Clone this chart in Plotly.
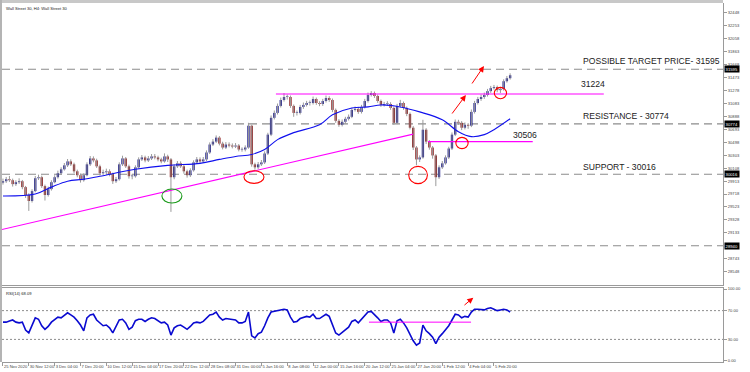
import plotly.graph_objects as go

# ---------------- data ----------------
first_open = 29890
close = [29911,29941,29926,29867,29896,29911,29822,29703,29613,29762,
         29956,29971,29837,29703,29792,29896,29971,30031,30090,30150,
         30209,30165,30060,30001,29926,30001,30165,30254,30224,30135,
         30031,30046,30060,30016,29911,29941,30165,30254,30135,29986,
         29986,30120,30239,30269,30224,30254,30284,30269,30239,30209,
         30284,30239,29971,30135,30180,30135,30060,30001,30075,30194,
         30239,30209,30239,30343,30463,30507,30567,30477,30418,30463,
         30448,30433,30448,30388,30388,30418,30746,30165,30120,30165,
         30194,30328,30612,30865,30939,31044,31133,31178,31178,31044,
         30939,30939,31029,31059,31088,31088,31148,31088,31073,31118,
         31163,31133,30984,30820,30760,30805,30850,30880,30984,30999,
         30954,31029,31118,31208,31237,31193,31118,31059,31073,31073,
         31014,30790,31044,31088,31014,30924,30716,30418,30239,30269,
         30686,30507,30418,30299,29971,30120,30180,30269,30403,30612,
         30805,30790,30716,30760,30746,30954,31088,31148,31178,31208,
         31267,31312,31327,31282,31297,31416,31461,31506]
high = [29950,29975,29990,29950,29925,29955,29930,29840,29730,29790,
        29990,30010,29995,29860,29830,29925,30000,30070,30120,30185,
        30245,30240,30190,30085,30025,30030,30195,30290,30285,30250,
        30160,30085,30100,30090,30040,29975,30195,30295,30275,30160,
        30020,30150,30270,30305,30295,30290,30320,30320,30295,30265,
        30330,30310,30260,30165,30215,30210,30160,30085,30105,30225,
        30275,30270,30275,30375,30495,30545,30600,30590,30505,30500,
        30495,30480,30485,30470,30420,30450,30790,30760,30190,30200,
        30230,30360,30640,30900,30975,31080,31170,31237,31215,31200,
        31065,30975,31060,31095,31120,31125,31185,31170,31115,31150,
        31200,31190,31155,31005,30845,30840,30880,30915,31015,31035,
        31030,31060,31150,31245,31267,31260,31215,31140,31105,31115,
        31100,31035,31075,31135,31110,31035,30945,30740,30440,30300,
        30835,30710,30530,30440,30320,30150,30215,30300,30430,30645,
        30840,30835,30815,30795,30785,30990,31120,31180,31215,31245,
        31300,31345,31360,31350,31330,31445,31495,31535]
low = [29860,29885,29900,29830,29840,29870,29790,29660,29464,29590,
       29745,29930,29810,29620,29680,29770,29880,29950,30010,30070,
       30125,30140,30030,29970,29890,29905,29985,30140,30195,30110,
       30000,30005,30020,29985,29870,29885,29920,30140,30110,29950,
       29940,29965,30100,30215,30195,30200,30230,30240,30210,30180,
       30190,30200,29449,29940,30110,30110,30025,29965,29975,30055,
       30170,30185,30185,30215,30320,30440,30485,30450,30390,30395,
       30420,30405,30410,30360,30355,30360,30400,30130,30085,30095,
       30140,30170,30305,30590,30840,30915,31020,31110,31140,31015,
       30880,30900,30915,31000,31035,31050,31065,31060,31040,31045,
       31095,31105,30950,30790,30730,30735,30780,30825,30860,30960,
       30925,30930,31005,31095,31185,31165,31090,31030,31035,31045,
       30985,30760,30770,31020,30985,30890,30690,30380,30150,30200,
       30250,30470,30385,30250,29837,29945,30095,30160,30245,30380,
       30590,30760,30680,30690,30700,30725,30930,31065,31120,31150,
       31185,31240,31290,31250,31240,31275,31395,31440]
rsi = [54,54,55.5,57,54,53,54,43,39,50,
       60,58,49,44,48,54,58,61,60,64,
       67,64,61,56,50,42,60,64,65,57,
       53,49,50,46,39,48,57,58,53,44,
       47,56,58,58,55,58,60,59,56,53,
       54,50,36,46,49,50,47,44,48,53,
       54,53,55,60,64,65,68,61,57,59,
       58,57,57,53,53,55,68,35,32,38,
       40,49,60,68,69,71,72,72,71,61,
       54,55,59,61,62,61,65,59,59,62,
       65,62,50,39,36,40,44,47,55,57,
       53,58,64,68,69,65,60,55,57,57,
       53,39,56,58,53,46,36,28,22,25,
       50,42,38,33,24,33,38,43,49,57,
       65,64,60,62,61,68,72,72,72,71,
       73,74,72,70,71,72,71,68.09]
ma_idx = [0,10,15,20,25,30,41,51,61,67,72,77,81,85,90,98,102,108,113,117,123,129,136,141,145,149,152,157]
ma_val = [29688,29718,29822,29911,29941,29986,30090,30150,30180,30239,30284,30314,30388,30537,
          30642,30760,30910,31014,31029,31059,31029,30954,30835,30656,30582,30612,30686,30850]

x_tick_idx = [0,8,16,24,32,40,48,56,64,72,80,88,96,104,112,120,128,136,144,152]
x_tick_labels = ["25 Nov 2020","30 Nov 12:00","3 Dec 04:00","7 Dec 20:00","10 Dec 12:00",
                 "15 Dec 04:00","17 Dec 20:00","22 Dec 12:00","28 Dec 08:00","31 Dec 00:00",
                 "5 Jan 16:00","8 Jan 08:00","12 Jan 00:00","15 Jan 16:00","20 Jan 12:00",
                 "25 Jan 04:00","27 Jan 20:00","1 Feb 12:00","4 Feb 04:00","5 Feb 20:00"]
y_tick_vals = [32448,32253,32058,31863,31668,31473,31278,31083,30888,30693,30498,30303,
               30108,29913,29718,29523,29328,29133,28743,28548]
rsi_ticks = [100,70,30,0]
rsi_tick_labels = ["100.00","70.00","30.00","0.00"]

levels = [31595, 30774, 30016, 28940]
level_texts = ["POSSIBLE TARGET PRICE- 31595", "RESISTANCE - 30774", "SUPPORT - 30016"]
level_text_pos = [(179, 31720), (179, 30892), (179, 30125)]
resist_1 = 31224
resist_1_span = [84.5, 186]
support_1 = 30506
support_1_span = [131.6, 164]
trend_x = [-0.6, 127]
trend_y = [29180, 30620]
rsi_line_val = 54
rsi_line_span = [113.3, 144.9]
circles = [  # (cx, cy, rx, ry, color)
    (52.3, 29688, 3.1, 105, "#1a9a1a"),
    (77.7, 29974, 3.1, 95, "#ff0000"),
    (128.5, 30004, 2.9, 130, "#ff0000"),
    (142.1, 30486, 1.9, 85, "#ff0000"),
    (154.0, 31238, 1.9, 85, "#ff0000"),
]
arrows = [  # (tail_x, tail_y, head_x, head_y, panel)
    (138.7, 30907, 143.3, 31208, "main"),
    (144.9, 31359, 148.9, 31645, "main"),
    (142.4, 76, 145.6, 88, "rsi"),
]

# ---------------- figure ----------------
N = len(close)
idx = list(range(N))
open_ = [first_open] + close[:-1]

FONT = "Liberation Sans, Arial, sans-serif"
UP, DN, WICK = "#16168a", "#8a1414", "#9a9a9a"
XR = [-0.3, 222.9]
TICK_FONT = dict(size=4.1, color="#444444", family=FONT)

fig = go.Figure()

# wicks
wx, wy = [], []
for i in idx:
    wx += [i, i, None]
    wy += [low[i], high[i], None]
fig.add_trace(go.Scatter(x=wx, y=wy, mode="lines", line=dict(color=WICK, width=1),
                         hoverinfo="skip", xaxis="x", yaxis="y"))
# bodies
base = [min(o, c) for o, c in zip(open_, close)]
height = [max(abs(c - o), 10) for o, c in zip(open_, close)]
colors = [UP if c >= o else DN for o, c in zip(open_, close)]
fig.add_trace(go.Bar(x=idx, y=height, base=base, width=0.72, marker=dict(color=colors, line=dict(width=0)),
                     xaxis="x", yaxis="y", hoverinfo="skip"))
# moving average
fig.add_trace(go.Scatter(x=ma_idx, y=ma_val, mode="lines", line=dict(color="#1010ee", width=1.1, shape="spline"),
                         xaxis="x", yaxis="y", hoverinfo="skip"))
# magenta lines
fig.add_trace(go.Scatter(x=trend_x, y=trend_y, mode="lines", line=dict(color="#ff00ff", width=1.1),
                         xaxis="x", yaxis="y", hoverinfo="skip"))
fig.add_trace(go.Scatter(x=resist_1_span, y=[resist_1, resist_1], mode="lines",
                         line=dict(color="#ff00ff", width=1.1), xaxis="x", yaxis="y", hoverinfo="skip"))
fig.add_trace(go.Scatter(x=support_1_span, y=[support_1, support_1], mode="lines",
                         line=dict(color="#ff00ff", width=1.1), xaxis="x", yaxis="y", hoverinfo="skip"))
# RSI
fig.add_trace(go.Scatter(x=idx, y=rsi, mode="lines", line=dict(color="#0a0ad0", width=1.6),
                         xaxis="x2", yaxis="y2", hoverinfo="skip"))
fig.add_trace(go.Scatter(x=rsi_line_span, y=[rsi_line_val, rsi_line_val], mode="lines",
                         line=dict(color="#ff00ff", width=1), xaxis="x2", yaxis="y2", hoverinfo="skip"))

shapes = []
for lv in levels:
    shapes.append(dict(type="line", xref="paper", x0=0, x1=1, yref="y", y0=lv, y1=lv,
                       line=dict(color="#8c8c8c", width=1.1, dash="8px,5px"), layer="below"))
for v in (70, 30):
    shapes.append(dict(type="line", xref="paper", x0=0, x1=1, yref="y2", y0=v, y1=v,
                       line=dict(color="#8c8c8c", width=1, dash="2px,2px"), layer="below"))
for cx, cy, rx, ry, col in circles:
    shapes.append(dict(type="circle", xref="x", yref="y", x0=cx - rx, x1=cx + rx, y0=cy - ry, y1=cy + ry,
                       line=dict(color=col, width=1.1)))
# window borders
shapes.append(dict(type="rect", xref="paper", yref="paper", x0=-0.003, x1=1.0, y0=1.0, y1=1.009,
                   fillcolor="#c8c8c8", line=dict(width=0)))
shapes.append(dict(type="rect", xref="paper", yref="paper", x0=-0.003, x1=0.0, y0=0.0, y1=1.009,
                   fillcolor="#b4b4b4", line=dict(width=0)))

annotations = []
for (tx, ty), t in zip(level_text_pos, level_texts):
    annotations.append(dict(x=tx, y=ty, xref="x", yref="y", text=t, showarrow=False, xanchor="left",
                            yanchor="middle", font=dict(size=8.6, color="#222222", family=FONT)))
annotations.append(dict(x=178.3, y=31374, xref="x", yref="y", text=str(resist_1), showarrow=False,
                        xanchor="left", yanchor="middle", font=dict(size=8.6, color="#222222", family=FONT)))
annotations.append(dict(x=157.3, y=30606, xref="x", yref="y", text=str(support_1), showarrow=False,
                        xanchor="left", yanchor="middle", font=dict(size=8.6, color="#222222", family=FONT)))
for tx, ty, hx, hy, panel in arrows:
    xr, yr = ("x", "y") if panel == "main" else ("x2", "y2")
    annotations.append(dict(x=hx, y=hy, ax=tx, ay=ty, xref=xr, yref=yr, axref=xr, ayref=yr, text="",
                            showarrow=True, arrowhead=2, arrowsize=1.2, arrowwidth=1, arrowcolor="#ff0000"))
for lv in levels:
    annotations.append(dict(x=1, y=lv, xref="paper", yref="y", text=str(lv), showarrow=False,
                            xanchor="left", yanchor="middle", xshift=1, bgcolor="#000000", borderpad=0.6,
                            font=dict(size=4.2, color="#ffffff", family=FONT)))
annotations.append(dict(x=0.003, y=1, xref="paper", yref="paper", text="Wall Street 30, H4: Wall Street 30",
                        showarrow=False, xanchor="left", yanchor="top", yshift=-1,
                        font=dict(size=4.1, color="#222222", family=FONT)))
annotations.append(dict(x=0.003, y=1, xref="paper", yref="y2 domain", text="RSI(14) 68.09",
                        showarrow=False, xanchor="left", yanchor="top", yshift=-1,
                        font=dict(size=4.1, color="#222222", family=FONT)))

axis_common = dict(showgrid=False, zeroline=False, linecolor="#9a9a9a", linewidth=1)
fig.update_layout(
    width=750, height=372,
    margin=dict(l=2, r=27, t=3, b=10),
    paper_bgcolor="white", plot_bgcolor="white",
    showlegend=False, hovermode=False, barmode="overlay",
    font=dict(family=FONT, size=4.1, color="#333333"),
    xaxis=dict(domain=[0, 1], range=XR, anchor="y", showticklabels=False, ticks="",
               showline=True, **axis_common),
    yaxis=dict(domain=[0.2145, 1], range=[28349, 32593], anchor="x", side="right",
               tickvals=y_tick_vals, ticktext=[str(v) for v in y_tick_vals], ticks="outside", ticklen=3,
               tickcolor="#9a9a9a", tickfont=TICK_FONT, showline=True, **axis_common),
    xaxis2=dict(domain=[0, 1], range=XR, anchor="y2", tickvals=x_tick_idx, ticktext=x_tick_labels,
                tickangle=0, ticks="outside", ticklen=3, tickcolor="#9a9a9a", ticklabelposition="outside right",
                tickfont=TICK_FONT, showline=True, mirror=True, **axis_common),
    yaxis2=dict(domain=[0, 0.206], range=[-1.4, 101.4], anchor="x2", side="right",
                tickvals=rsi_ticks, ticktext=rsi_tick_labels, ticks="outside", ticklen=3,
                tickcolor="#9a9a9a", tickfont=TICK_FONT, showline=True, **axis_common),
    shapes=shapes, annotations=annotations,
)

fig.write_html("out.html", config={"displayModeBar": False, "staticPlot": True},
               post_script="document.body.style.margin='0';document.body.style.padding='0';"
                           "document.body.style.overflow='hidden';")
